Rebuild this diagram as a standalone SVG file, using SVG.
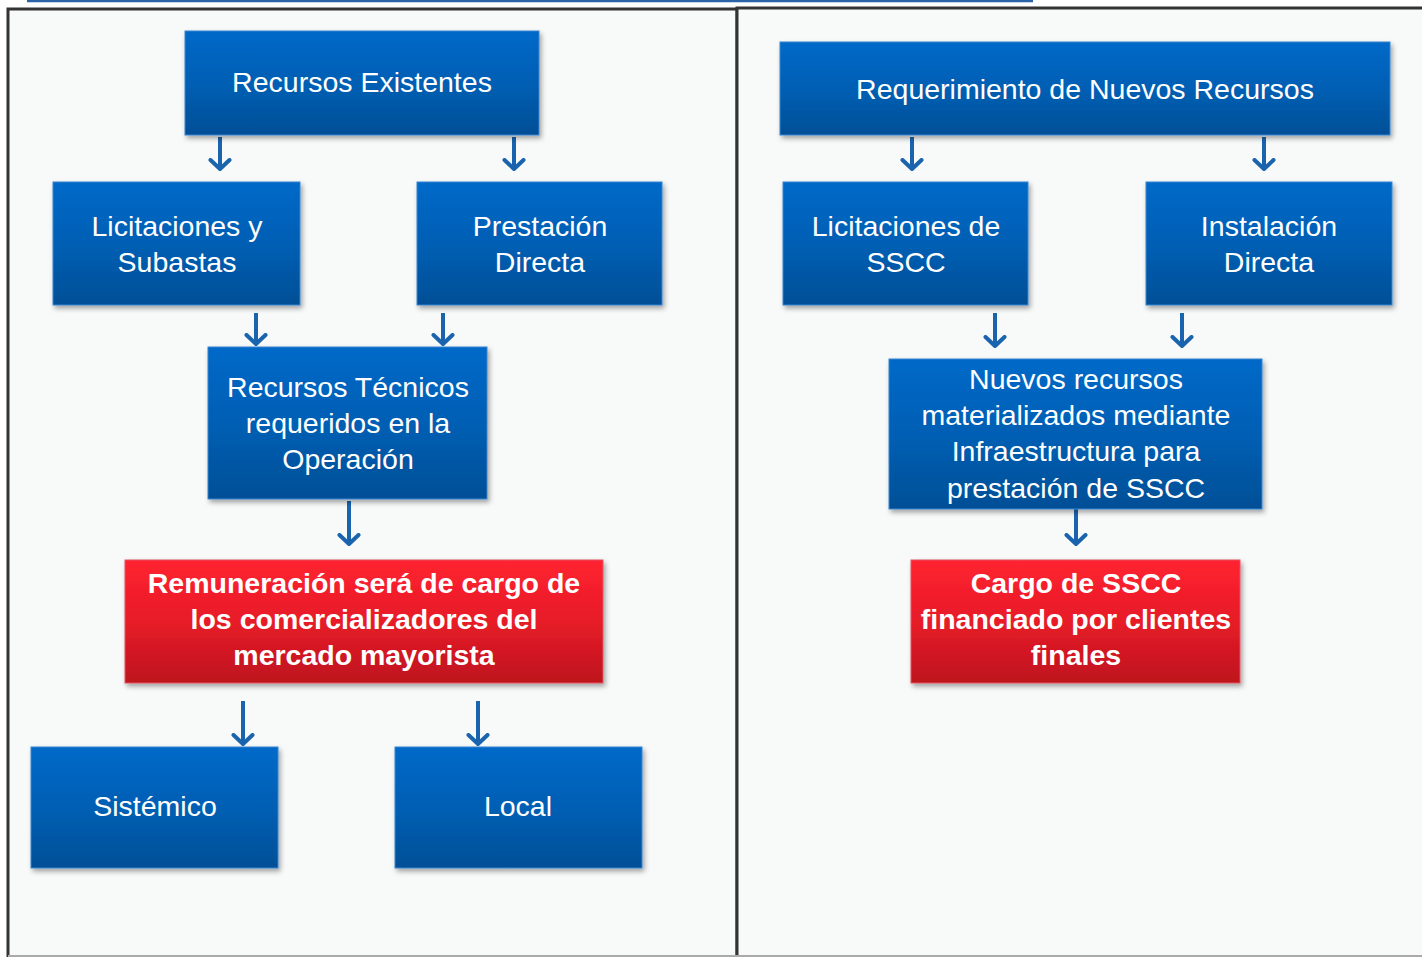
<svg xmlns="http://www.w3.org/2000/svg" width="1422" height="957" viewBox="0 0 1422 957">
<defs>
<linearGradient id="gb" x1="0" y1="0" x2="0" y2="1"><stop offset="0" stop-color="#0069c8"/><stop offset="0.5" stop-color="#005fb4"/><stop offset="1" stop-color="#004f96"/></linearGradient>
<linearGradient id="gr" x1="0" y1="0" x2="0" y2="1"><stop offset="0" stop-color="#ff2230"/><stop offset="0.5" stop-color="#e71c28"/><stop offset="1" stop-color="#bd141e"/></linearGradient>
<filter id="sh" x="-5%" y="-5%" width="115%" height="125%"><feDropShadow dx="2" dy="3" stdDeviation="2.5" flood-color="#000" flood-opacity="0.35"/></filter>
<marker id="ah" viewBox="0 0 14 24" refX="11" refY="12" markerWidth="14" markerHeight="24" markerUnits="userSpaceOnUse" orient="auto"><path d="M2,2.5 L11,12 L2,21.5" fill="none" stroke="#1a64ae" stroke-width="4" stroke-linecap="round" stroke-linejoin="round"/></marker>
<style>
.bx{fill:url(#gb);stroke:#3a85d0;stroke-width:1;filter:url(#sh)}
.rx{fill:url(#gr);stroke:#e05560;stroke-width:1;filter:url(#sh)}
.t{font-family:"Liberation Sans",Arial,sans-serif;font-size:28.5px;fill:#ffffff;text-anchor:middle}
.tb{font-family:"Liberation Sans",Arial,sans-serif;font-size:28.5px;font-weight:bold;fill:#ffffff;text-anchor:middle}
.ar{stroke:#1a64ae;stroke-width:4;fill:none;marker-end:url(#ah)}
</style>
</defs>
<rect x="0" y="0" width="1422" height="957" fill="#ffffff"/>
<line x1="27" y1="1" x2="1033" y2="1" stroke="#2a63a8" stroke-width="2.5"/>
<rect x="8" y="9" width="729" height="950" fill="#f8f9f9" stroke="#333333" stroke-width="3"/>
<rect x="737" y="8" width="690" height="950" fill="#f8f9f9" stroke="#333333" stroke-width="3"/>
<line x1="8" y1="956" x2="1422" y2="956" stroke="#aaaaaa" stroke-width="2"/>
<g id="connectors">
<line class="ar" x1="220" y1="137" x2="220" y2="169"/>
<line class="ar" x1="514" y1="137" x2="514" y2="169"/>
<line class="ar" x1="256" y1="313" x2="256" y2="344"/>
<line class="ar" x1="443" y1="313" x2="443" y2="344"/>
<line class="ar" x1="349" y1="501" x2="349" y2="544"/>
<line class="ar" x1="243" y1="701" x2="243" y2="744"/>
<line class="ar" x1="478" y1="701" x2="478" y2="744"/>
<line class="ar" x1="912" y1="137" x2="912" y2="169"/>
<line class="ar" x1="1264" y1="137" x2="1264" y2="169"/>
<line class="ar" x1="995" y1="313" x2="995" y2="346"/>
<line class="ar" x1="1182" y1="313" x2="1182" y2="346"/>
<line class="ar" x1="1076" y1="506" x2="1076" y2="544"/>
</g>
<g id="n-recursos-existentes"><rect class="bx" x="185" y="31" width="354" height="104"/><text class="t" x="362" y="92">Recursos Existentes</text></g>
<g id="n-licitaciones-subastas"><rect class="bx" x="53" y="182" width="247" height="123"/><text class="t" x="177" y="236">Licitaciones y</text><text class="t" x="177" y="272">Subastas</text></g>
<g id="n-prestacion-directa"><rect class="bx" x="417" y="182" width="245" height="123"/><text class="t" x="540" y="236">Prestación</text><text class="t" x="540" y="272">Directa</text></g>
<g id="n-recursos-tecnicos"><rect class="bx" x="208" y="347" width="279" height="152"/><text class="t" x="348" y="397">Recursos Técnicos</text><text class="t" x="348" y="433">requeridos en la</text><text class="t" x="348" y="469">Operación</text></g>
<g id="n-remuneracion"><rect class="rx" x="125" y="560" width="478" height="123"/><text class="tb" x="364" y="593">Remuneración será de cargo de</text><text class="tb" x="364" y="629">los comercializadores del</text><text class="tb" x="364" y="665">mercado mayorista</text></g>
<g id="n-sistemico"><rect class="bx" x="31" y="747" width="247" height="121"/><text class="t" x="155" y="816">Sistémico</text></g>
<g id="n-local"><rect class="bx" x="395" y="747" width="247" height="121"/><text class="t" x="518" y="816">Local</text></g>
<g id="n-requerimiento"><rect class="bx" x="780" y="42" width="610" height="93"/><text class="t" x="1085" y="99">Requerimiento de Nuevos Recursos</text></g>
<g id="n-licitaciones-sscc"><rect class="bx" x="783" y="182" width="245" height="123"/><text class="t" x="906" y="236">Licitaciones de</text><text class="t" x="906" y="272">SSCC</text></g>
<g id="n-instalacion-directa"><rect class="bx" x="1146" y="182" width="246" height="123"/><text class="t" x="1269" y="236">Instalación</text><text class="t" x="1269" y="272">Directa</text></g>
<g id="n-nuevos-recursos"><rect class="bx" x="889" y="359" width="373" height="150"/><text class="t" x="1076" y="389">Nuevos recursos</text><text class="t" x="1076" y="425">materializados mediante</text><text class="t" x="1076" y="461">Infraestructura para</text><text class="t" x="1076" y="498">prestación de SSCC</text></g>
<g id="n-cargo"><rect class="rx" x="911" y="560" width="329" height="123"/><text class="tb" x="1076" y="593">Cargo de SSCC</text><text class="tb" x="1076" y="629">financiado por clientes</text><text class="tb" x="1076" y="665">finales</text></g>
</svg>
